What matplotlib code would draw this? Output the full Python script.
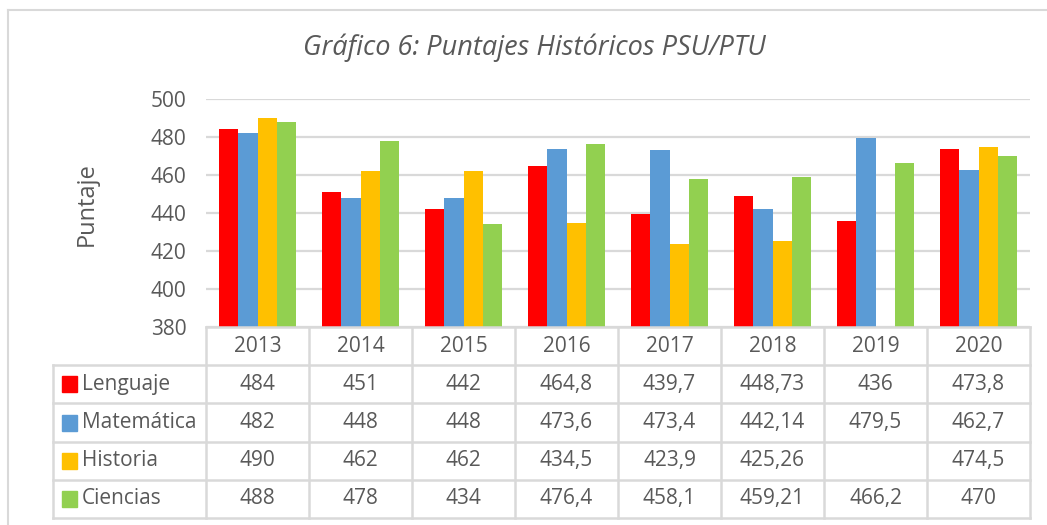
import numpy as np
import matplotlib
matplotlib.use('Agg')
import matplotlib.pyplot as plt
from matplotlib.patches import Rectangle
from matplotlib.lines import Line2D
import matplotlib.transforms as mtransforms

# datos
years = ['2013', '2014', '2015', '2016', '2017', '2018', '2019', '2020']
series = ['Lenguaje', 'Matemática', 'Historia', 'Ciencias']
lenguaje = [484, 451, 442, 464.8, 439.7, 448.73, 436, 473.8]
matematica = [482, 448, 448, 473.6, 473.4, 442.14, 479.5, 462.7]
historia = [490, 462, 462, 434.5, 423.9, 425.26, np.nan, 474.5]
ciencias = [488, 478, 434, 476.4, 458.1, 459.21, 466.2, 470]
colors = ['#FF0000', '#5B9BD5', '#FFC000', '#92D050']

values = [lenguaje, matematica, historia, ciencias]
txt = '#595959'
grid_c = '#D9D9D9'
plt.rcParams['font.family'] = ['Open Sans', 'DejaVu Sans']

W, H = 1047, 525
fig = plt.figure(figsize=(W / 100, H / 100), dpi=100)
ax = fig.add_axes([206 / W, 1 - 327 / H, (1030 - 206) / W, (327 - 99) / H])

x = np.arange(len(years))
w = 0.75 / 4
for i, (vals, c) in enumerate(zip(values, colors)):
    ax.bar(x + (i - 1.5) * w, vals, width=w, color=c, zorder=3)

ax.set_xlim(-0.5, len(years) - 0.5)
ax.set_ylim(380, 500)
ax.set_yticks(range(380, 501, 20))
ax.tick_params(axis='y', length=0, labelsize=15, labelcolor=txt, pad=14)
ax.set_xticks([])
ax.grid(axis='y', color=grid_c, linewidth=1.6, zorder=0)
for s in ['top', 'right', 'left', 'bottom']:
    ax.spines[s].set_visible(False)
ax.set_ylabel('Puntaje', fontsize=17, color=txt)
ax.yaxis.set_label_coords(-(206 - 99) / 824, 0.54)

fig.text(534 / W, 1 - 48 / H, 'Gráfico 6: Puntajes Históricos PSU/PTU',
         ha='center', va='center', fontsize=19.5, style='italic', color=txt)

# tabla de datos
trans = mtransforms.blended_transform_factory(ax.transData, ax.transAxes)
h = 38.2 / 228
xl = -0.5 - (206 - 53) / 103
xr = len(years) - 0.5
lk = dict(color=grid_c, linewidth=1.8, transform=trans, clip_on=False, zorder=4)

ax.add_line(Line2D([-0.5, xr], [0, 0], **lk))
for r in range(1, 6):
    ax.add_line(Line2D([xl, xr], [-r * h, -r * h], **lk))
for j in range(len(years) + 1):
    ax.add_line(Line2D([-0.5 + j, -0.5 + j], [0, -5 * h], **lk))
ax.add_line(Line2D([xl, xl], [-h, -5 * h], **lk))

for j, yr in enumerate(years):
    ax.text(j, -0.5 * h, yr, ha='center', va='center', fontsize=15,
            color=txt, transform=trans)

for i, (name, vals, c) in enumerate(zip(series, values, colors)):
    yc = -(i + 1.5) * h
    ax.add_patch(Rectangle((xl + 9 / 103, yc - 8 / 228), 15 / 103, 16 / 228,
                           color=c, transform=trans, clip_on=False))
    ax.text(xl + 29 / 103, yc, name, ha='left', va='center', fontsize=15,
            color=txt, transform=trans)
    for j, v in enumerate(vals):
        if np.isnan(v):
            continue
        ax.text(j, yc, f'{v:g}'.replace('.', ','), ha='center', va='center',
                fontsize=15, color=txt, transform=trans)

# marco exterior
fig.add_artist(Line2D([8 / W, 1], [1 - 10 / H, 1 - 10 / H], color=grid_c,
                      linewidth=1.5, transform=fig.transFigure))
fig.add_artist(Line2D([8 / W, 8 / W], [0, 1 - 10 / H], color=grid_c,
                      linewidth=1.5, transform=fig.transFigure))

fig.savefig('out.png', dpi=100)
